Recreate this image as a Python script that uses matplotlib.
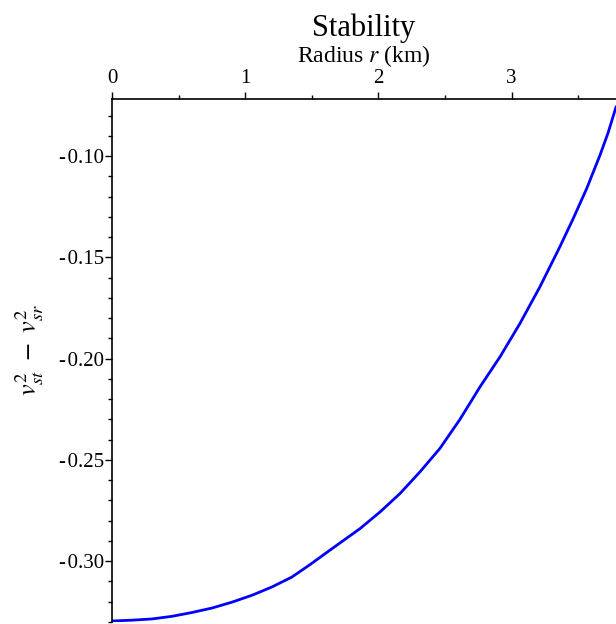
import numpy as np
import matplotlib
matplotlib.use("Agg")
import matplotlib.pyplot as plt
from matplotlib.ticker import MultipleLocator, FuncFormatter

# values
radius = [0.000, 0.150, 0.300, 0.450, 0.601, 0.751, 0.901, 1.051, 1.201,
          1.351, 1.486, 1.637, 1.862, 2.012, 2.162, 2.312, 2.462, 2.613,
          2.763, 2.913, 3.063, 3.213, 3.363, 3.463, 3.564, 3.664, 3.724,
          3.784]
stability = [-0.3295, -0.3291, -0.3285, -0.3272, -0.3253, -0.3231, -0.3202,
             -0.3168, -0.3127, -0.3078, -0.3017, -0.2945, -0.2839, -0.2757,
             -0.2666, -0.2559, -0.2443, -0.2299, -0.2139, -0.1991, -0.1826,
             -0.1645, -0.1447, -0.1308, -0.1160, -0.0995, -0.0886, -0.0758]

plt.rcParams['font.family'] = ['Liberation Serif', 'DejaVu Serif']
plt.rcParams['mathtext.fontset'] = 'stix'
plt.rcParams['axes.unicode_minus'] = False

fig = plt.figure(figsize=(6.16, 6.24), dpi=100)
ax = fig.add_axes([112 / 616, 1 - 622 / 624, 504 / 616, 523 / 624])

ax.plot(radius, stability, color='#0000ff', lw=2)

ax.set_xlim(0, 3.784)
ax.set_ylim(-0.33, -0.0718)

ax.spines['right'].set_visible(False)
ax.spines['bottom'].set_visible(False)
ax.spines['left'].set_linewidth(1.2)
ax.spines['top'].set_linewidth(1.2)

ax.xaxis.set_ticks_position('top')
ax.xaxis.set_label_position('top')
ax.xaxis.set_major_locator(MultipleLocator(1))
ax.xaxis.set_minor_locator(MultipleLocator(0.5))
ax.yaxis.set_major_locator(MultipleLocator(0.05))
ax.yaxis.set_minor_locator(MultipleLocator(0.01))


def yfmt(v, pos):
    s = '%.2f' % abs(v)
    return ('-\u200a' + s) if v < 0 else s


ax.yaxis.set_major_formatter(FuncFormatter(yfmt))
ax.xaxis.set_major_formatter(FuncFormatter(lambda v, p: '%d' % round(v)))
ax.tick_params(axis='y', which='major', length=5, width=1, labelsize=15, direction='out', pad=1)
ax.tick_params(axis='x', which='major', length=5, width=1, labelsize=15, direction='out', pad=3)
ax.tick_params(which='minor', length=3, width=1, direction='out')

ax.set_xlabel('Radius $r$ (km)', fontsize=17, labelpad=5)
ax.set_ylabel('$v_{st}^2\\ -\\ v_{sr}^2$', fontsize=19)
ax.yaxis.set_label_coords(-0.13, 0.52)
ax.set_title('Stability', fontsize=22, pad=4)

fig.savefig('out.png', dpi=100)
